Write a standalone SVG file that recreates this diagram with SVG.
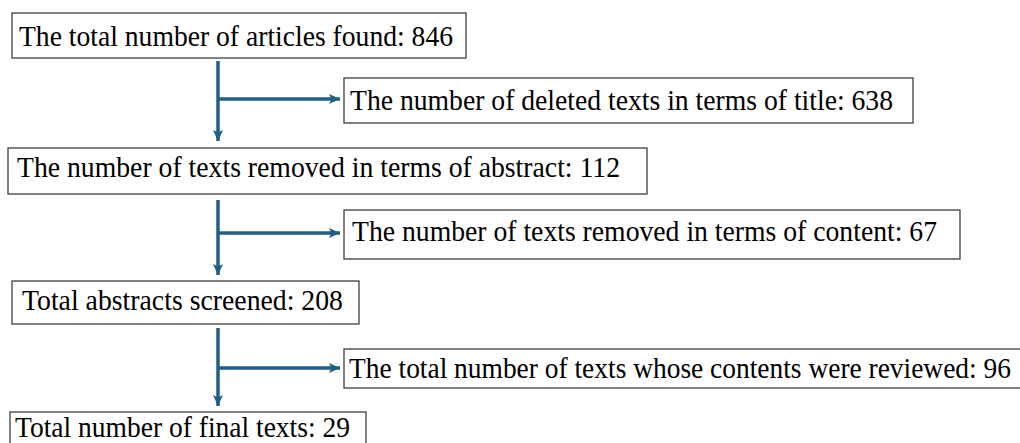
<svg xmlns="http://www.w3.org/2000/svg" width="1020" height="443" viewBox="0 0 1020 443">
<style>
.box{fill:#ffffff;stroke:#3f3f3f;stroke-width:1.3}
.lbl{font-family:'Liberation Serif','DejaVu Serif',serif;font-size:30px;fill:#000000}
.con{stroke:#1f5f86;stroke-width:3.5;fill:none}
</style>
<defs>
<marker id="ah" markerUnits="userSpaceOnUse" markerWidth="12" markerHeight="12" viewBox="0 0 12 12" refX="11" refY="6" orient="auto">
<path d="M0,1 L11,6 L0,11 L2.5,6 Z" fill="#1f5f86"/>
</marker>
</defs>
<rect width="1020" height="443" fill="#ffffff"/>
<g id="connectors">
<path class="con" d="M218,61 V141" marker-end="url(#ah)"/>
<path class="con" d="M218,99 H340" marker-end="url(#ah)"/>
<path class="con" d="M218,200 V275" marker-end="url(#ah)"/>
<path class="con" d="M218,233 H340" marker-end="url(#ah)"/>
<path class="con" d="M218,328 V406" marker-end="url(#ah)"/>
<path class="con" d="M218,368 H340" marker-end="url(#ah)"/>
</g>
<g id="n1">
<rect class="box" x="12" y="13" width="454" height="45"/>
<text class="lbl" font-family="Liberation Serif, serif" x="19" y="46" textLength="434" lengthAdjust="spacingAndGlyphs">The total number of articles found: 846</text>
</g>
<g id="n2">
<rect class="box" x="344" y="78" width="569" height="45"/>
<text class="lbl" font-family="Liberation Serif, serif" x="350" y="110" textLength="543" lengthAdjust="spacingAndGlyphs">The number of deleted texts in terms of title: 638</text>
</g>
<g id="n3">
<rect class="box" x="8" y="148" width="639" height="46"/>
<text class="lbl" font-family="Liberation Serif, serif" x="17" y="177" textLength="603" lengthAdjust="spacingAndGlyphs">The number of texts removed in terms of abstract: 112</text>
</g>
<g id="n4">
<rect class="box" x="344" y="210" width="616" height="49"/>
<text class="lbl" font-family="Liberation Serif, serif" x="352" y="241" textLength="585" lengthAdjust="spacingAndGlyphs">The number of texts removed in terms of content: 67</text>
</g>
<g id="n5">
<rect class="box" x="12" y="281" width="347" height="43"/>
<text class="lbl" font-family="Liberation Serif, serif" x="22" y="310" textLength="321" lengthAdjust="spacingAndGlyphs">Total abstracts screened: 208</text>
</g>
<g id="n6">
<rect class="box" x="344" y="349" width="690" height="39"/>
<text class="lbl" font-family="Liberation Serif, serif" x="349" y="378" textLength="662" lengthAdjust="spacingAndGlyphs">The total number of texts whose contents were reviewed: 96</text>
</g>
<g id="n7">
<rect class="box" x="10" y="412" width="356" height="40"/>
<text class="lbl" font-family="Liberation Serif, serif" x="15" y="437" textLength="335" lengthAdjust="spacingAndGlyphs">Total number of final texts: 29</text>
</g>
</svg>
